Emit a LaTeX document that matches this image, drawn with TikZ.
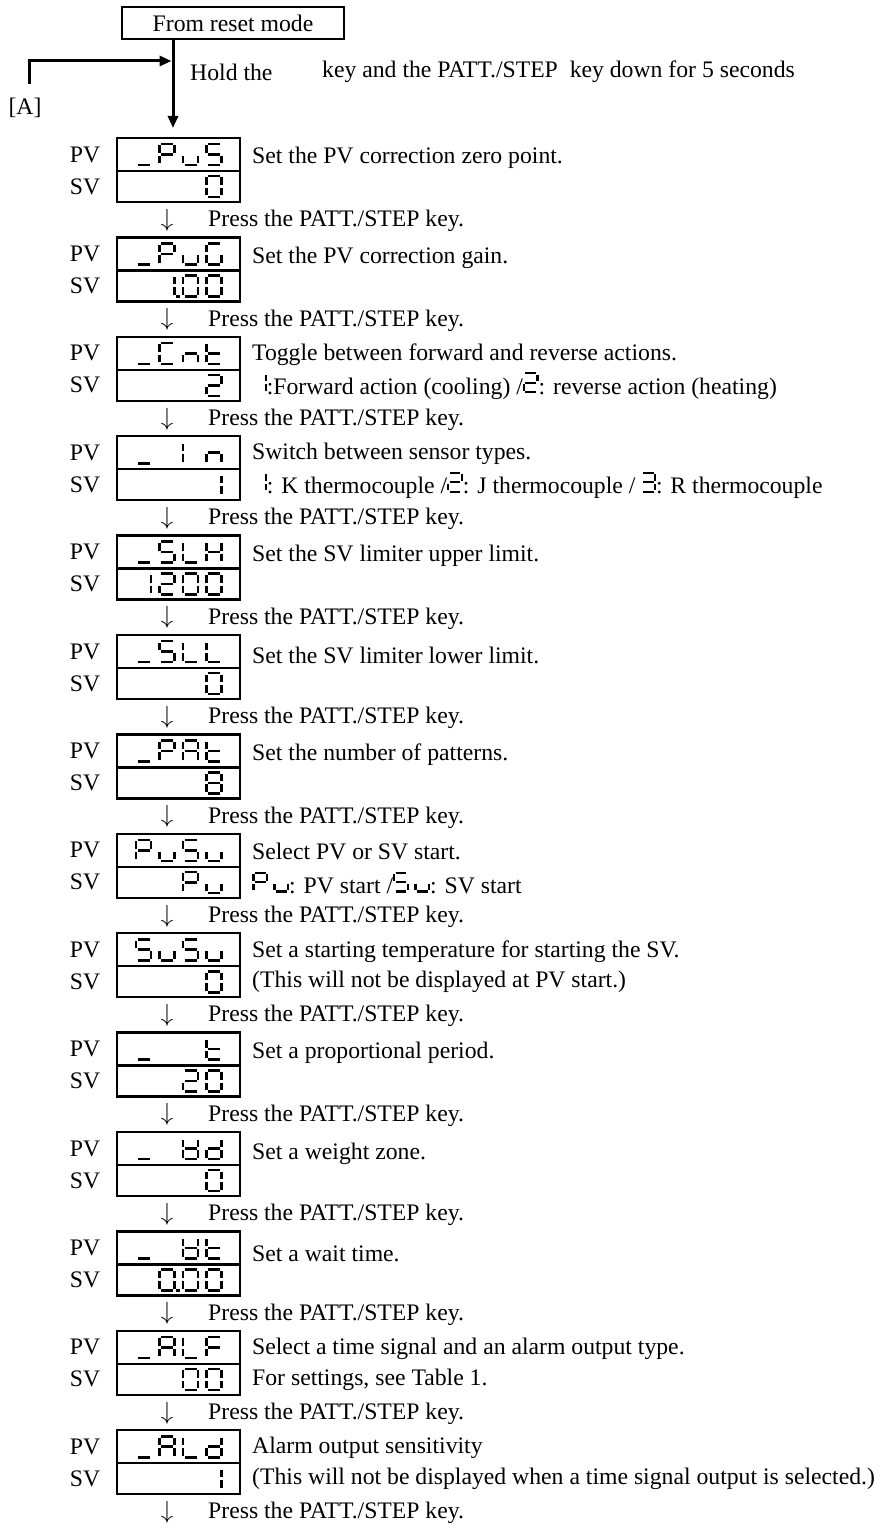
\documentclass[tikz,border=0pt]{standalone}
\usepackage{fontspec}
\setmainfont{Liberation Serif}
\usetikzlibrary{arrows.meta, positioning}

% Segments d'un afficheur (cellule 15 x 21)
\def\sega{(1.5,0) -- (13.5,0)}
\def\segb{(15,1.5) -- (15,9)}
\def\segc{(15,12) -- (15,19.5)}
\def\segd{(1.5,21) -- (13.5,21)}
\def\sege{(0,12) -- (0,19.5)}
\def\segf{(0,1.5) -- (0,9)}
\def\segg{(1.5,10.5) -- (13.5,10.5)}
\def\segp{(18,20.5) rectangle (19,21.5)}

% Caracteres 7 segments
\newcommand\defglyph[2]{\expandafter\def\csname gl#1\endcsname{#2}}
\defglyph{_}{d}
\defglyph{0}{a,b,c,d,e,f}
\defglyph{0p}{a,b,c,d,e,f,p}
\defglyph{1}{b,c}
\defglyph{1p}{b,c,p}
\defglyph{2}{a,b,g,e,d}
\defglyph{3}{a,b,g,c,d}
\defglyph{8}{a,b,c,d,e,f,g}
\defglyph{P}{a,b,f,g,e}
\defglyph{u}{c,d,e}
\defglyph{S}{a,f,g,c,d}
\defglyph{G}{a,f,e,d,c}
\defglyph{C}{a,f,e,d}
\defglyph{n}{e,g,c}
\defglyph{t}{f,e,d,g}
\defglyph{I}{e,f}
\defglyph{H}{b,c,e,f,g}
\defglyph{L}{f,e,d}
\defglyph{A}{a,b,c,e,f,g}
\defglyph{F}{a,f,g,e}
\defglyph{d}{b,c,d,e,g}
\defglyph{w}{b,c,d,e,f,g}

\tikzset{
  segline/.style={line width=2.6pt, line cap=butt},
  lcdbox/.style={draw, line width=2.5pt, minimum width=123pt, minimum height=33pt,
    outer sep=0pt, inner sep=0pt},
  desc/.style={anchor=west, inner sep=0pt},
  thickarrow/.style={line width=3pt, -{Triangle[length=12pt,width=10pt]}},
}

% #1,#2 : coin haut gauche, #3 : liste cellule/caractere
\newcommand\lcd[3]{%
  \foreach \cl/\gl in #3{%
    \expandafter\let\expandafter\seglist\csname gl\gl\endcsname
    \begin{scope}[shift={(#1+23.5*\cl,#2)}]
      \foreach \s in \seglist {\draw[segline] \csname seg\s\endcsname;}
    \end{scope}}}
% caracteres dans le texte
\newcommand\inl[1]{\tikz[x=0.9pt,y=-0.9pt,baseline={(0,21)},
  segline/.append style={line width=2.3pt}]{\path (0,0) rectangle (15,21); \lcd{0}{0}{{#1}}}}

\begin{document}
\begin{tikzpicture}[x=1pt, y=-1pt, font=\fontsize{23.7}{28}\selectfont]
  \useasboundingbox (0,0) rectangle (882,1533);

  % Depart
  \node[draw, line width=1.3pt, minimum width=222pt, minimum height=32pt] (reset) at (233,23) {From reset mode};
  \coordinate (joint) at (173,61);
  \coordinate (stub) at (29,84);
  \node (A) at (25,108) {[A]};
  \node[desc] (hold) at (190,72) {Hold the};
  \node[desc] (holdkey) at (322,72) {key and the PATT./STEP\ \ key down for 5 seconds};

  % Afficheurs
  \foreach \pv/\sv/\ya/\la/\lb [count=\i from 0] in {
    {0/_,1/P,2/u,3/S}/{3/0}/20/{Set the PV correction zero point.}/{},
    {0/_,1/P,2/u,3/G}/{1/1p,2/0,3/0}/20/{Set the PV correction gain.}/{},
    {0/_,1/C,2/n,3/t}/{3/2}/18/{Toggle between forward and reverse actions.}/{\inl{0/1}:Forward action (cooling) /\inl{0/2}: reverse action (heating)},
    {0/_,2/I,3/n}/{3/1}/18/{Switch between sensor types.}/{\inl{0/1}: K thermocouple /\inl{0/2}: J thermocouple / \inl{0/3}: R thermocouple},
    {0/_,1/S,2/L,3/H}/{0/1,1/2,2/0,3/0}/20/{Set the SV limiter upper limit.}/{},
    {0/_,1/S,2/L,3/L}/{3/0}/20/{Set the SV limiter lower limit.}/{},
    {0/_,1/P,2/A,3/t}/{3/8}/20/{Set the number of patterns.}/{},
    {0/P,1/u,2/S,3/u}/{2/P,3/u}/18/{Select PV or SV start.}/{\inl{0/P,1/u}: PV start /\inl{0/S,1/u}: SV start},
    {0/S,1/u,2/S,3/u}/{3/0}/19/{Set a starting temperature for starting the SV.}/{(This will not be displayed at PV start.)},
    {0/_,3/t}/{2/2,3/0}/20/{Set a proportional period.}/{},
    {0/_,2/w,3/d}/{3/0}/22/{Set a weight zone.}/{},
    {0/_,2/w,3/t}/{1/0p,2/0,3/0}/22/{Set a wait time.}/{},
    {0/_,1/A,2/L,3/F}/{2/0,3/0}/18/{Select a time signal and an alarm output type.}/{For settings, see Table 1.},
    {0/_,1/A,2/L,3/d}/{3/1}/18/{Alarm output sensitivity}/{(This will not be displayed when a time signal output is selected.)}}
  {
    \pgfmathsetmacro\t{138+99.4*\i}
    \node[lcdbox] (pv\i) at (178.5,\t+16.5) {};
    \node[lcdbox, minimum height=31pt, below=0pt of pv\i] (sv\i) {};
    \node (pvl\i) at (85,\t+16.5) {PV};
    \node (svl\i) at (85,\t+48.5) {SV};
    \lcd{136}{\t+6}{\pv}
    \lcd{136}{\t+38}{\sv}
    \node[desc] (da\i) at (252,\t+\ya) {\la};
    \node[desc] (db\i) at (252,\t+49) {\lb};
    \node (dn\i) at (167,\t+82) {$\downarrow$};
    \node[desc] (pr\i) at (208,\t+83) {Press the PATT./STEP key.};
  }

  % Fleches epaisses
  \draw[thickarrow] (reset.south -| joint) -- ([yshift=10pt]pv0.north -| joint);
  \draw[thickarrow] (stub) |- ([xshift=-1.5pt]joint);
\end{tikzpicture}
\end{document}
